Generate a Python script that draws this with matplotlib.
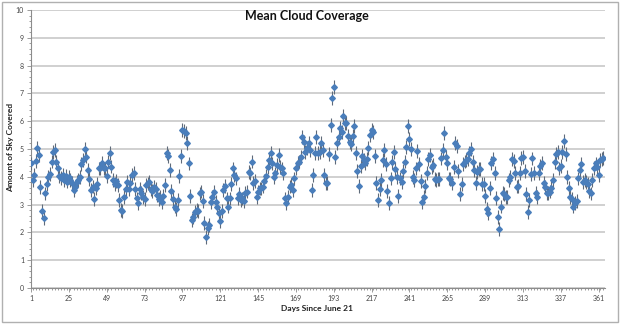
import numpy as np
import matplotlib
matplotlib.use("Agg")
import matplotlib.pyplot as plt
from matplotlib.ticker import MultipleLocator, FixedLocator
from matplotlib.patches import Rectangle

# mean cloud cover per day
cover = [
    4.48, 3.90, 4.05, 4.58, 5.05, 4.80, 3.62, 2.76, 2.52, 3.40,
    3.75, 4.00, 4.10, 4.55, 4.90, 4.95, 4.55, 4.33, 4.03, 3.95,
    4.07, 3.88, 4.03, 3.83, 4.00, 3.88, 3.77, 3.53, 3.65, 3.83,
    3.88, 4.00, 4.46, 4.62, 5.00, 4.73, 4.25, 3.92, 3.52, 3.65,
    3.20, 3.58, 3.74, 4.30, 4.30, 4.50, 4.30, 4.30, 4.04, 4.55,
    4.87, 4.37, 3.88, 3.73, 3.85, 3.70, 3.17, 2.80, 2.77, 3.28,
    3.56, 3.83, 3.57, 3.77, 4.06, 4.15, 3.55, 3.22, 3.05, 3.56,
    3.43, 3.28, 3.20, 3.70, 3.76, 3.82, 3.56, 3.50, 3.65, 3.55,
    3.35, 3.19, 3.28, 3.10, 3.30, 3.70, 4.87, 4.75, 4.25, 3.50,
    3.20, 2.93, 2.83, 3.17, 4.04, 4.75, 5.68, 5.65, 5.56, 5.20,
    4.48, 3.30, 2.45, 2.54, 2.75, 2.80, 2.77, 3.40, 3.47, 3.12,
    2.35, 1.85, 2.15, 2.27, 3.10, 3.28, 3.44, 3.08, 2.93, 2.70,
    2.42, 2.78, 3.52, 3.67, 3.22, 2.93, 3.22, 3.73, 4.30, 4.06,
    3.94, 3.22, 3.37, 3.17, 3.22, 3.13, 3.43, 3.47, 4.16, 4.12,
    4.55, 3.79, 3.85, 3.28, 3.47, 3.58, 3.58, 3.65, 3.85, 4.04,
    4.36, 4.60, 4.84, 4.48, 4.00, 4.12, 4.42, 4.80, 4.36, 4.30,
    4.12, 3.22, 3.05, 3.28, 3.65, 3.70, 3.52, 3.94, 4.30, 4.50,
    4.55, 4.70, 5.44, 5.26, 4.90, 5.02, 5.20, 4.96, 3.52, 4.06,
    4.84, 5.44, 4.84, 4.90, 5.23, 4.96, 4.06, 3.79, 3.79, 4.82,
    5.86, 6.85, 7.22, 4.72, 5.23, 5.42, 5.74, 5.62, 6.19, 5.92,
    5.95, 5.47, 5.26, 5.18, 5.48, 5.83, 4.84, 4.22, 3.67, 4.39,
    4.75, 4.60, 4.48, 4.63, 5.05, 5.50, 5.68, 5.62, 4.75, 3.77,
    3.17, 3.56, 3.88, 4.60, 4.96, 4.46, 3.49, 3.05, 3.94, 4.52,
    4.90, 4.27, 4.00, 3.30, 3.94, 3.82, 4.20, 4.55, 5.08, 5.83,
    5.35, 4.99, 4.00, 3.88, 4.30, 4.94, 4.46, 3.85, 3.10, 3.28,
    3.68, 4.15, 4.63, 4.78, 4.36, 4.42, 3.92, 3.88, 3.92, 3.92,
    4.66, 4.96, 5.59, 4.72, 4.48, 3.94, 3.92, 3.79, 4.34, 5.20,
    5.12, 4.21, 3.37, 3.73, 4.45, 4.55, 4.60, 4.64, 4.84, 5.00,
    4.52, 4.24, 3.77, 4.18, 4.28, 4.28, 3.73, 3.73, 3.31, 2.83,
    2.69, 3.61, 4.51, 4.64, 4.15, 3.25, 2.57, 2.11, 2.93, 3.43,
    3.37, 3.28, 3.28, 3.88, 3.98, 4.63, 4.57, 4.15, 3.65, 3.68,
    4.15, 4.69, 4.72, 4.21, 3.37, 2.75, 3.17, 4.09, 4.66, 4.15,
    3.43, 3.28, 4.12, 4.40, 4.51, 3.77, 3.65, 3.43, 3.43, 3.47,
    3.61, 3.88, 4.52, 4.82, 4.88, 4.30, 4.40, 4.88, 5.29, 4.82,
    3.98, 3.59, 3.26, 3.19, 2.93, 3.05, 3.13, 3.94, 4.24, 4.45,
    3.82, 3.88, 3.82, 3.73, 3.50, 3.40, 3.88, 4.33, 4.48, 4.36,
    4.06, 4.60, 4.63, 4.67,
]
days = list(range(1, len(cover) + 1))
err = 0.25
xticks = list(range(1, 362, 24))

plt.rcParams['font.family'] = ['Lato', 'DejaVu Sans']

fig = plt.figure(figsize=(6.22, 3.25), dpi=100)
ax = fig.add_axes([31 / 622, 1 - 288 / 325, (605 - 31) / 622, (288 - 10) / 325])

ax.errorbar(days, cover, yerr=err, fmt='D', color='#4a7ebb', ms=2.9,
            mec='#4a7ebb', ecolor='#5f6b7a', elinewidth=0.8, capsize=0, zorder=3)

ax.set_xlim(1, 365)
ax.set_ylim(0, 10)
ax.xaxis.set_major_locator(FixedLocator(xticks))
ax.xaxis.set_minor_locator(MultipleLocator(2))
ax.yaxis.set_major_locator(MultipleLocator(1))
ax.yaxis.set_minor_locator(MultipleLocator(0.2))
ax.grid(axis='y', color='#c8c8c8', lw=1.2)
ax.set_axisbelow(True)
for s in ['top', 'right']:
    ax.spines[s].set_visible(False)
for s in ['left', 'bottom']:
    ax.spines[s].set_color('#8c8c8c')
    ax.spines[s].set_linewidth(0.8)
ax.tick_params(which='both', colors='#8c8c8c', labelcolor='#444444', labelsize=5, width=0.6)
ax.tick_params(which='major', length=3, pad=2)
ax.tick_params(which='minor', length=1.5)

fig.text(307 / 622, 1 - 16 / 325, 'Mean Cloud Coverage', ha='center', va='center',
         fontsize=9, fontweight='bold', color='#111111')
fig.text(317 / 622, 1 - 308 / 325, 'Days Since June 21', ha='center', va='center',
         fontsize=6, fontweight='bold', color='#222222')
fig.text(11 / 622, 1 - 147 / 325, 'Amount of Sky Covered', ha='center', va='center',
         rotation=90, fontsize=6, fontweight='bold', color='#222222')

fig.patches.append(Rectangle((2 / 622, 3 / 325), 616 / 622, 320 / 325, transform=fig.transFigure,
                             fill=False, edgecolor='#b0b0b0', lw=1))

fig.savefig('out.png', dpi=100)
